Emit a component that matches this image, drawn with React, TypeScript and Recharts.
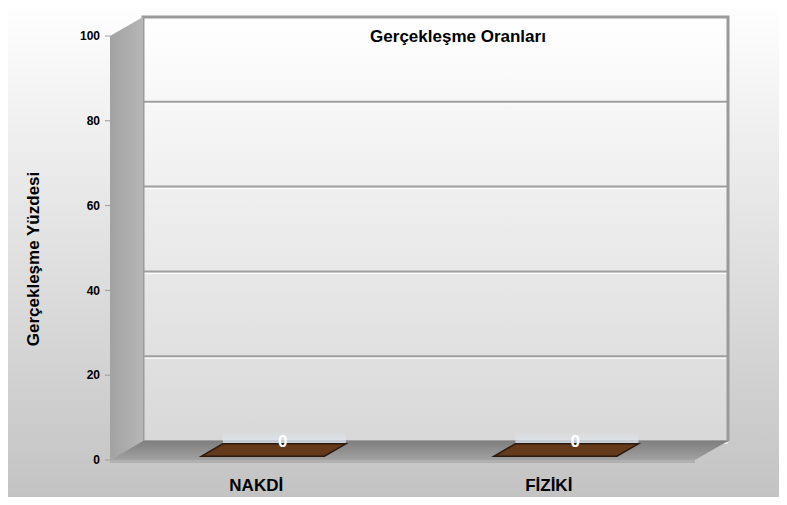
import { Bar, BarChart, CartesianGrid, Label, LabelList, XAxis, YAxis } from "recharts"

const categories = ["NAKDİ", "FİZİKİ"]
const values = [0, 0]
const yTicks = [0, 20, 40, 60, 80, 100]

const data = categories.map((name, i) => ({ name, value: values[i] }))

// depth of the fake 3d box
const DX = 33
const DY = -19
const FONT = "'Liberation Sans', Arial, sans-serif"

function WallBox(p: any) {
  const { x, y, width: w, height: h } = p
  const pts: number[] = p.horizontalPoints || []
  const bx = x + DX
  const by = y + DY
  return (
    <g key={p.key}>
      <defs>
        <linearGradient id="backWall" x1="0" y1="0" x2="0" y2="1">
          <stop offset="0" stopColor="#ffffff" />
          <stop offset="1" stopColor="#d8d8d8" />
        </linearGradient>
        <linearGradient id="sideWall" x1="0" y1="0" x2="1" y2="0">
          <stop offset="0" stopColor="#a2a2a2" />
          <stop offset="1" stopColor="#b6b6b6" />
        </linearGradient>
        <linearGradient id="floorFill" x1="0" y1="0" x2="0" y2="1">
          <stop offset="0" stopColor="#7e7e7e" />
          <stop offset="1" stopColor="#a2a2a2" />
        </linearGradient>
        <linearGradient id="glare" x1="0" y1="0" x2="0" y2="1">
          <stop offset="0" stopColor="#e4ebf3" stopOpacity={0} />
          <stop offset="1" stopColor="#dbe4ee" stopOpacity={0.9} />
        </linearGradient>
      </defs>
      <rect x={bx} y={by} width={w} height={h} fill="url(#backWall)" />
      {pts.map((py, i) => (
        <g key={i}>
          <line x1={bx} x2={bx + w} y1={py + DY} y2={py + DY} stroke="#a0a0a0" strokeWidth={2} />
          <line x1={bx} x2={bx + w} y1={py + DY + 2} y2={py + DY + 2} stroke="#ffffff" strokeWidth={1} />
        </g>
      ))}
      <path
        d={`M${bx},${by + h} L${bx},${by} L${bx + w},${by} L${bx + w},${by + h}`}
        fill="none"
        stroke="#9a9a9a"
        strokeWidth={3}
      />
      <polygon points={`${x},${y + h} ${x},${y} ${bx},${by} ${bx},${by + h}`} fill="url(#sideWall)" />
      <polygon
        points={`${x},${y + h} ${x + w},${y + h} ${bx + w},${by + h} ${bx},${by + h}`}
        fill="url(#floorFill)"
      />
      <rect x={x} y={y + h} width={w} height={3} fill="#b0b0b0" />
    </g>
  )
}

function FlatBar(p: any) {
  const { x, y, width: w, height: h } = p
  const f = 0.2
  const b = 0.85
  const fx = x + DX * f
  const fy = y + DY * f
  const kx = x + DX * b
  const ky = y + DY * b
  return (
    <g>
      <rect x={kx} y={ky - 12} width={w} height={12} fill="url(#glare)" />
      {h > 0 && <rect x={fx} y={fy} width={w} height={h} fill="#5e3416" />}
      <polygon
        points={`${fx},${fy} ${fx + w},${fy} ${kx + w},${ky} ${kx},${ky}`}
        fill="#643a1a"
        stroke="#2a1a10"
        strokeWidth={1.5}
      />
    </g>
  )
}

export default function App() {
  return (
    <div
      style={{
        position: "relative",
        width: 787,
        height: 505,
        margin: -8,
        background: "linear-gradient(#ffffff, #c2c2c2)",
      }}
    >
      <div
        style={{
          position: "absolute",
          left: 6,
          top: 6,
          width: 773,
          height: 494,
          border: "2px solid #8e8e8e",
        }}
      />
      <BarChart
        width={787}
        height={505}
        data={data}
        margin={{ top: 36, right: 92, bottom: 0, left: 0 }}
        barCategoryGap="29%"
        style={{ position: "absolute", left: 0, top: 0 }}
      >
        <CartesianGrid
          vertical={false}
          horizontal={(p: any) => (p.index === 0 ? <WallBox {...p} /> : <g key={p.key} />)}
        />
        <XAxis
          dataKey="name"
          axisLine={false}
          tickLine={false}
          tickSize={0}
          tickMargin={19}
          height={45}
          tick={{ fill: "#000", fontSize: 17, fontWeight: "bold", fontFamily: FONT }}
        />
        <YAxis
          domain={[0, 100]}
          ticks={yTicks}
          width={110}
          axisLine={false}
          tickSize={5}
          tickMargin={5}
          tickLine={{ stroke: "#999" }}
          tick={{ fill: "#000", fontSize: 12, fontWeight: "bold", fontFamily: FONT }}
        >
          <Label
            content={(props: any) => {
              const vb = props.viewBox || { x: 0, y: 36, width: 110, height: 424 }
              const cx = vb.x + 33
              const cy = vb.y + vb.height / 2 + 11
              return (
                <text
                  x={cx}
                  y={cy}
                  transform={`rotate(-90 ${cx} ${cy})`}
                  textAnchor="middle"
                  dominantBaseline="central"
                  fontSize={17}
                  fontWeight="bold"
                  fontFamily={FONT}
                  fill="#000"
                >
                  Gerçekleşme Yüzdesi
                </text>
              )
            }}
          />
        </YAxis>
        <Bar dataKey="value" shape={<FlatBar />} isAnimationActive={false}>
          <LabelList
            dataKey="value"
            content={(p: any) => (
              <text
                x={p.x + p.width / 2 + DX * 0.8}
                y={p.y + DY * 0.95}
                textAnchor="middle"
                dominantBaseline="central"
                fill="#fff"
                fontSize={17}
                fontWeight="bold"
                fontFamily={FONT}
              >
                {p.value}
              </text>
            )}
          />
        </Bar>
      </BarChart>
      <div
        style={{
          position: "absolute",
          left: 458,
          top: 37,
          transform: "translate(-50%, -50%)",
          fontFamily: FONT,
          fontSize: 17,
          fontWeight: "bold",
          whiteSpace: "nowrap",
        }}
      >
        Gerçekleşme Oranları
      </div>
    </div>
  )
}
